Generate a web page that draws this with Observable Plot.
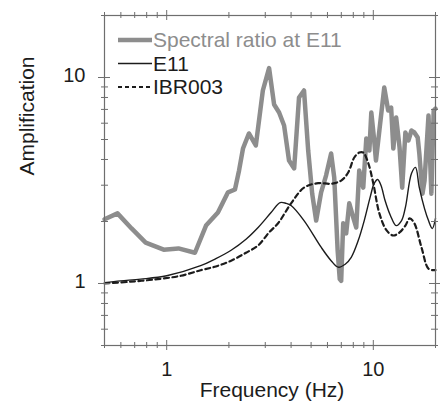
<!DOCTYPE html>
<html>
<head>
<meta charset="utf-8">
<script src="https://cdn.jsdelivr.net/npm/d3@7"></script>
<script src="https://cdn.jsdelivr.net/npm/@observablehq/plot@0.6"></script>
<style>
  html, body { margin: 0; padding: 0; background: #fff; }
  #chart { width: 440px; height: 408px; }
  svg { font-family: "Liberation Sans", Arial, sans-serif; }
</style>
</head>
<body>
<div id="chart"></div>
<script>
// ---- Data ----
const ratioFreq = [0.5, 0.578, 0.676, 0.791, 0.967, 1.14, 1.37, 1.55, 1.77, 1.98, 2.14, 2.24, 2.34, 2.50, 2.70, 2.92, 3.13, 3.31, 3.50, 3.70, 3.91, 4.14, 4.37, 4.62, 4.84, 5.06, 5.29, 5.59, 5.91, 6.25, 6.47, 6.72, 6.88, 6.99, 7.15, 7.39, 7.65, 8.0, 8.27, 8.55, 8.94, 9.25, 9.57, 9.78, 10.1, 10.3, 10.7, 11.3, 11.8, 12.2, 12.5, 12.9, 13.4, 13.8, 14.3, 14.8, 15.3, 15.8, 16.4, 16.7, 17.3, 17.7, 18.5, 19.1, 19.6, 20];
const ratioAmp  = [2.05, 2.19, 1.85, 1.58, 1.46, 1.48, 1.41, 1.91, 2.21, 2.77, 2.86, 3.54, 4.52, 5.35, 4.68, 8.65, 11.1, 7.39, 6.76, 5.85, 3.95, 3.62, 8.0, 8.65, 4.42, 2.73, 2.02, 2.77, 3.35, 4.28, 3.27, 1.45, 1.05, 1.03, 1.96, 1.75, 2.45, 2.09, 1.87, 3.54, 2.92, 5.06, 4.42, 6.76, 4.95, 3.95, 5.53, 8.94, 6.92, 7.15, 4.52, 6.40, 4.57, 2.92, 5.41, 4.95, 5.53, 5.41, 5.11, 4.28, 2.73, 3.16, 6.54, 2.73, 6.92, 7.07];

const e11Freq = [0.5, 0.598, 0.748, 1.0, 1.46, 1.73, 2.05, 2.42, 2.77, 3.20, 3.54, 3.78, 4.0, 4.62, 5.59, 6.25, 6.76, 7.31, 7.82, 8.46, 9.04, 9.67, 10.1, 10.5, 10.9, 11.4, 12.1, 12.9, 13.7, 14.3, 15.3, 16.0, 16.7, 17.7, 18.5, 19.3, 20];
const e11Amp  = [1.01, 1.03, 1.05, 1.09, 1.22, 1.32, 1.45, 1.64, 1.87, 2.21, 2.47, 2.45, 2.39, 2.02, 1.50, 1.29, 1.20, 1.24, 1.34, 1.62, 2.02, 2.64, 3.06, 3.20, 2.99, 2.53, 2.14, 1.91, 2.02, 2.34, 3.42, 3.66, 2.92, 2.31, 2.02, 1.85, 2.07];

const ibrFreq = [0.5, 0.668, 0.904, 1.17, 1.46, 1.73, 2.05, 2.42, 2.77, 3.13, 3.46, 4.0, 4.62, 5.41, 6.25, 6.99, 7.56, 8.09, 8.55, 8.94, 9.46, 10.0, 10.7, 11.6, 12.5, 13.4, 14.3, 15.0, 15.8, 17.1, 18.5, 19.8, 20];
const ibrAmp  = [1.0, 1.02, 1.05, 1.09, 1.16, 1.21, 1.29, 1.41, 1.53, 1.77, 1.96, 2.45, 2.92, 3.07, 3.05, 3.16, 3.46, 4.09, 4.32, 4.32, 3.83, 3.06, 2.19, 1.81, 1.71, 1.77, 1.91, 2.07, 1.96, 1.50, 1.18, 1.16, 1.16];

const xMajorTicks = [1, 10];
const xMinorTicks = [0.5, 0.6, 0.7, 0.8, 0.9, 2, 3, 4, 5, 6, 7, 8, 9, 20];
const yMajorTicks = [1, 10];
const yMinorTicks = [0.5, 0.6, 0.7, 0.8, 0.9, 2, 3, 4, 5, 6, 7, 8, 9, 20];
const xTickLabels = ["1", "10"];
const yTickLabels = ["1", "10"];
const xTitle = "Frequency (Hz)";
const yTitle = "Amplification";
const legendLabels = ["Spectral ratio at E11", "E11", "IBR003"];

// ---- Build tables ----
const ratio = ratioFreq.map((f, i) => ({f, a: ratioAmp[i]}));
const e11 = e11Freq.map((f, i) => ({f, a: e11Amp[i]}));
const ibr = ibrFreq.map((f, i) => ({f, a: ibrAmp[i]}));

const W = 440, H = 408;
const mL = 104, mR = 5, mT = 15, mB = 63;
const frameW = W - mL - mR, frameH = H - mT - mB;
const axisColor = "#6e6e6e";
const gray = "#8d8d8d";
const ink = "#1c1c1c";

const ticksMarks = [];
function xTicks(vals, inside, outside) {
  ticksMarks.push(Plot.ruleX(vals, {stroke: axisColor, strokeWidth: 1, insetTop: frameH - inside, insetBottom: -outside}));
  ticksMarks.push(Plot.ruleX(vals, {stroke: axisColor, strokeWidth: 1, insetTop: -outside, insetBottom: frameH - inside}));
}
function yTicks(vals, inside, outside) {
  ticksMarks.push(Plot.ruleY(vals, {stroke: axisColor, strokeWidth: 1, insetLeft: -outside, insetRight: frameW - inside}));
  ticksMarks.push(Plot.ruleY(vals, {stroke: axisColor, strokeWidth: 1, insetLeft: frameW - inside, insetRight: -outside}));
}
xTicks(xMajorTicks, 5, 5);
xTicks(xMinorTicks, 3, 3);
yTicks(yMajorTicks, 6, 6);
yTicks(yMinorTicks, 4, 3);

const chart = Plot.plot({
  width: W,
  height: H,
  marginLeft: mL,
  marginRight: mR,
  marginTop: mT,
  marginBottom: mB,
  style: {fontFamily: '"Liberation Sans", Arial, sans-serif', background: "#fff", color: ink},
  x: {type: "log", domain: [0.5, 20], axis: null},
  y: {type: "log", domain: [0.5, 20], axis: null},
  marks: [
    Plot.line(ratio, {x: "f", y: "a", stroke: gray, strokeWidth: 4.5, strokeLinejoin: "round"}),
    Plot.line(ibr, {x: "f", y: "a", stroke: ink, strokeWidth: 2.2, strokeDasharray: "5,3.5", curve: "catmull-rom"}),
    Plot.line(e11, {x: "f", y: "a", stroke: ink, strokeWidth: 1.4, curve: "catmull-rom"}),
    Plot.frame({stroke: axisColor, strokeWidth: 1.2}),
    ...ticksMarks,
    Plot.axisX(xMajorTicks, {anchor: "bottom", tickSize: 0, tickPadding: 16, tickFormat: (d) => xTickLabels[xMajorTicks.indexOf(d)], fontSize: 20, fill: ink, label: null}),
    Plot.axisY(yMajorTicks, {anchor: "left", tickSize: 0, tickPadding: 19, dy: -2, tickFormat: (d) => yTickLabels[yMajorTicks.indexOf(d)], fontSize: 20, fill: ink, label: null}),
    Plot.text([xTitle], {frameAnchor: "bottom", dy: 51, dx: 2, text: d => d, fontSize: 21, fill: ink}),
    Plot.text([yTitle], {frameAnchor: "left", dx: -77, dy: -5, rotate: -90, text: d => d, fontSize: 21, fill: ink})
  ]
});

// ---- Legend (inside the frame, top-left) ----
const svg = d3.select(chart);
const legendStyles = [
  {stroke: gray, width: 4.5, dash: null, fill: gray},
  {stroke: ink, width: 1.4, dash: null, fill: ink},
  {stroke: ink, width: 2.2, dash: "4,3", fill: ink}
];
const lg = svg.append("g")
  .attr("transform", `translate(${mL}, ${mT})`)
  .attr("text-anchor", "start");
legendLabels.forEach((lab, i) => {
  const s = legendStyles[i];
  const cy = 25 + i * 23.5;
  lg.append("line")
    .attr("x1", 14).attr("x2", 48)
    .attr("y1", cy).attr("y2", cy)
    .attr("stroke", s.stroke).attr("stroke-width", s.width)
    .attr("stroke-dasharray", s.dash);
  lg.append("text")
    .attr("x", 49).attr("y", cy)
    .attr("dy", "0.35em")
    .attr("text-anchor", "start")
    .attr("font-size", 21)
    .attr("fill", s.fill)
    .text(lab);
});

document.getElementById("chart").appendChild(chart);
</script>
</body>
</html>
